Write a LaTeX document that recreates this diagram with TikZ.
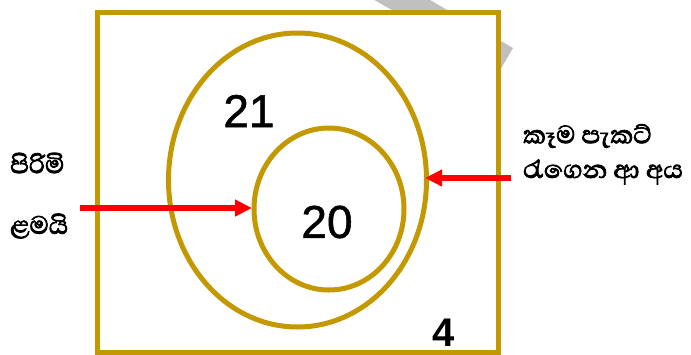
\documentclass[tikz,border=0pt]{standalone}
\usepackage{fontspec}
\setmainfont{Liberation Sans}
\newfontfamily\sinhalafont[Script=Sinhala, FakeBold=2.5]{Abhaya Libre}
\newfontfamily\numberfont[FakeBold=1.2]{Liberation Sans}
\usetikzlibrary{arrows.meta}
\definecolor{venngold}{RGB}{196,152,0}
\definecolor{shadowgray}{RGB}{192,192,192}

\begin{document}
\begin{tikzpicture}[x=1pt,y=-1pt,
    venn/.style={venngold, line width=5pt},
    pointer/.style={red, line width=5.5pt, -{Triangle[length=17pt,width=16pt]}},
    count/.style={font=\numberfont\fontsize{46}{46}\selectfont, inner sep=0pt},
    groupname/.style={font=\sinhalafont\fontsize{32}{32}\selectfont, inner sep=0pt, anchor=west}]
      \useasboundingbox (0,0) rectangle (691,354);
      \clip (0,0) rectangle (691,354);

      % 1. gray strip behind the frame
      \fill[shadowgray] (340,-52) -- (513,48) -- (499,72) -- (326,-28) -- cycle;

      % 2. frame and the two sets
      \draw[venn, fill=white] (97,12.5) rectangle (498.5,352.5);
      \draw[venn] (297.5,180) ellipse [x radius=129, y radius=147];
      \draw[venn] (329,209) ellipse [x radius=75, y radius=81];

      % 3. numbers in each region
      \node[count] (outer) at (249,111) {21};
      \node[count] (inner) at (327,222) {20};
      \node[count, font=\bfseries\fontsize{40}{40}\selectfont] (rest) at (444,333) {4};

      % 4. names of the sets
      \node[groupname] (boysA) at (10,163) {පිරිමි};
      \node[groupname] (boysB) at (10,226) {ළමයි};
      \node[groupname] (foodA) at (523,136) {කෑම පැකට්};
      \node[groupname] (foodB) at (523,172) {රැගෙන ආ අය};

      % 5. arrows to the ellipses
      \coordinate (boysTail) at (80,208);
      \coordinate (boysTip) at (252,208);
      \coordinate (foodTail) at (511,178);
      \coordinate (foodTip) at (425,178);
      \draw[pointer] (boysTail) -- (boysTip);
      \draw[pointer] (foodTail) -- (foodTip);
    \end{tikzpicture}
\end{document}
